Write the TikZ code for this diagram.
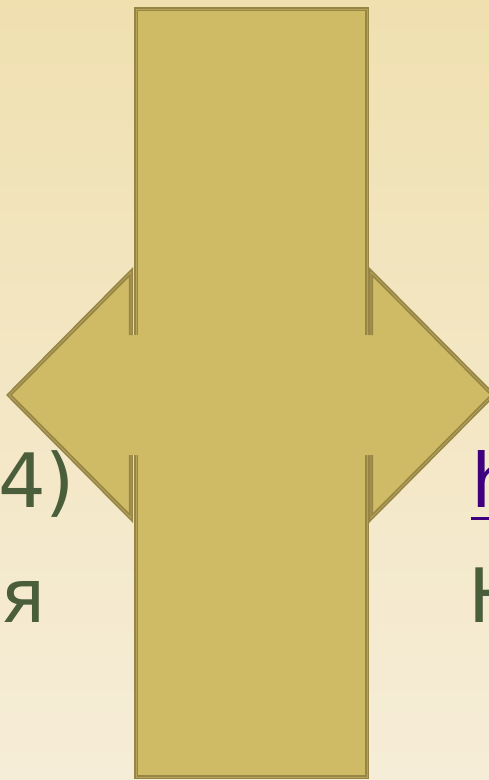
\documentclass[tikz,border=0pt]{standalone}
\usepackage{fontspec}
\setmainfont{DejaVu Sans}
\definecolor{bgtop}{HTML}{F0E0B0}
\definecolor{bgbottom}{HTML}{F6EDD8}
\definecolor{barfill}{HTML}{CFBA66}
\definecolor{edgebrown}{HTML}{968545}
\definecolor{edgelight}{HTML}{B5A35A}
\definecolor{leafgreen}{HTML}{4B5E3B}
\definecolor{linkpurple}{HTML}{3F007F}

\begin{document}
\begin{tikzpicture}[x=1pt, y=-1pt,
    outline/.style={draw=edgebrown, line width=1.7pt, double=edgelight, double distance=0.8pt},
    word/.style={inner sep=0pt, anchor=base west, text=leafgreen, font=\fontsize{75}{90}\selectfont}
  ]
  \useasboundingbox (0,0) rectangle (489,780);
  \shade[top color=bgtop, bottom color=bgbottom] (0,0) rectangle (489,780);
  \clip (0,0) rectangle (489,780);

  % text pieces at the edges
  \node[word] (left1) at (-2,507) {4)};
  \node[word] (left2) at (0,622) {я};
  \node[word, text=linkpurple] (right1) at (471,507) {h};
  \node[word] (right2) at (468,622) {Н};
  \draw[linkpurple, line width=3pt] ([yshift=-11pt]right1.base west) -- ([yshift=-11pt]right1.base east);

  % vertical bar
  \filldraw[fill=barfill, outline] (136,9) rectangle (367,777);

  % double arrow across the bar
  \fill[barfill] (131,335) -- (131,272) -- (9,395) -- (131,518) -- (131,455)
    -- (371,455) -- (371,518) -- (493,395) -- (371,272) -- (371,335) -- cycle;
  \draw[outline] (131,335) -- (131,272) -- (9,395) -- (131,518) -- (131,455);
  \draw[outline] (371,335) -- (371,272) -- (493,395) -- (371,518) -- (371,455);
\end{tikzpicture}
\end{document}
